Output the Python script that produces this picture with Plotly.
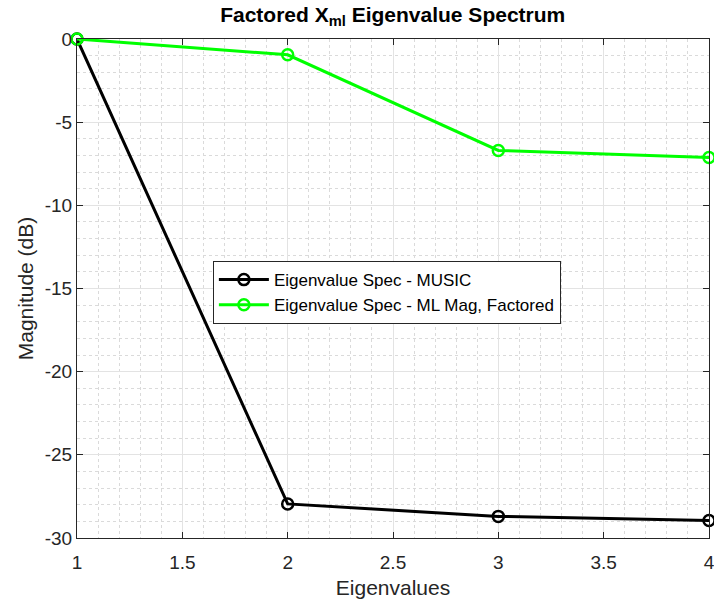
import plotly.graph_objects as go

eig_index = [1, 2, 3, 4]
music_db = [0, -27.95, -28.7, -28.95]
ml_factored_db = [0, -0.95, -6.7, -7.12]
series_names = ["Eigenvalue Spec - MUSIC", "Eigenvalue Spec - ML Mag, Factored"]
x_ticks = [1, 1.5, 2, 2.5, 3, 3.5, 4]
x_tick_labels = ["1", "1.5", "2", "2.5", "3", "3.5", "4"]
y_ticks = [-30, -25, -20, -15, -10, -5, 0]
y_tick_labels = ["-30", "-25", "-20", "-15", "-10", "-5", "0"]

FONT = "Liberation Sans, Arial"

fig = go.Figure()
fig.add_trace(go.Scatter(x=eig_index, y=music_db, mode="lines+markers", name=series_names[0],
                         cliponaxis=False,
                         line=dict(color="black", width=3),
                         marker=dict(symbol="circle-open", size=11, color="black", line=dict(width=2.5))))
fig.add_trace(go.Scatter(x=eig_index, y=ml_factored_db, mode="lines+markers", name=series_names[1],
                         cliponaxis=False,
                         line=dict(color="#00ff00", width=3),
                         marker=dict(symbol="circle-open", size=11, color="#00ff00", line=dict(width=2.5))))

axis_common = dict(showline=True, linecolor="#262626", linewidth=1, mirror="ticks",
                   ticks="inside", ticklen=6, tickcolor="#262626",
                   gridcolor="#e3e3e3", gridwidth=1, zeroline=False, automargin=False,
                   ticklabeloverflow="allow",
                   tickfont=dict(family=FONT, size=19, color="#262626"),
                   title_font=dict(family=FONT, size=21, color="#262626"))

fig.update_xaxes(range=[1, 4], tickvals=x_ticks, ticktext=x_tick_labels,
                 title_text="Eigenvalues", title_standoff=8, ticklabelstandoff=7,
                 minor=dict(dtick=0.1, showgrid=True, gridcolor="#dadada", griddash="dot", gridwidth=1, ticks=""),
                 **axis_common)
fig.update_yaxes(range=[-30, 0], tickvals=y_ticks, ticktext=y_tick_labels,
                 title_text="Magnitude (dB)", title_standoff=5,
                 minor=dict(dtick=1, showgrid=True, gridcolor="#dadada", griddash="dot", gridwidth=1, ticks=""),
                 **axis_common)

fig.update_layout(
    width=714, height=605,
    margin=dict(l=77, r=5, t=39, b=67),
    plot_bgcolor="white", paper_bgcolor="white",
    title=dict(text="<b>Factored X<sub>ml</sub> Eigenvalue Spectrum</b>", x=0.55, xanchor="center",
               y=0.988, yanchor="top",
               font=dict(family=FONT, size=21, color="black")),
    legend=dict(x=0.215, y=0.555, xanchor="left", yanchor="top", bgcolor="white",
                bordercolor="#262626", borderwidth=1,
                font=dict(family=FONT, size=17, color="black"),
                itemwidth=50, tracegroupgap=0),
    showlegend=True,
)

fig.write_html("out.html", config={"displayModeBar": False},
               post_script="document.body.style.margin='0';document.body.style.padding='0';")
